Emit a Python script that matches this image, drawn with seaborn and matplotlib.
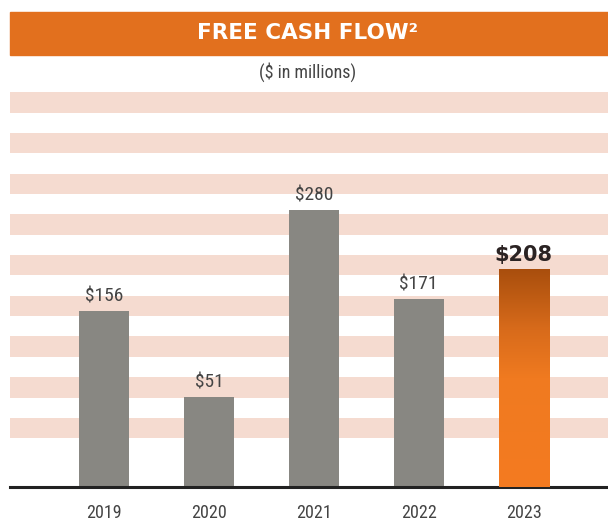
import numpy as np
import pandas as pd
import seaborn as sns
import matplotlib.pyplot as plt
from matplotlib.patches import Rectangle
from matplotlib.colors import LinearSegmentedColormap

years = ['2019', '2020', '2021', '2022', '2023']
fcf = [156, 51, 280, 171, 208]
labels = ['$156', '$51', '$280', '$171', '$208']

gray = '#888782'
orange = '#F47B20'
header = '#E2701E'
stripe = '#F5DBD0'

df = pd.DataFrame({'Year': years, 'FCF': fcf})

sns.set_style('white')
narrow = ['Roboto Condensed', 'Liberation Sans Narrow', 'DejaVu Sans']
plt.rcParams['font.family'] = ['DejaVu Sans']
plt.rcParams['font.stretch'] = 'condensed'

fig = plt.figure(figsize=(6.08, 5.21), dpi=100)
ax = fig.add_axes([10 / 608, 34 / 521, 598 / 608, 397 / 521])

# background stripes every 50
for lo in range(0, 401, 50):
    ax.axhspan(lo, lo + 25, color=stripe, lw=0, zorder=0)

pal = [gray] * 4 + [orange]
sns.barplot(data=df, x='Year', y='FCF', hue='Year', palette=pal, legend=False,
            width=0.477, saturation=1, linewidth=0, edgecolor='none', ax=ax, zorder=2)

ax.set_xlim(-0.896, 4.805)
ax.set_ylim(-60, 428)

# bars start from bottom of axes
for p in ax.patches:
    if isinstance(p, Rectangle) and p.get_width() < 1:
        p.set_y(-60)
        p.set_height(p.get_height() + 60)

# gradient on the 2023 bar
bar = ax.patches[-1]
x0, w = bar.get_x(), bar.get_width()
top = bar.get_y() + bar.get_height()
cmap = LinearSegmentedColormap.from_list('g', [(0, '#F47B20'), (0.5, '#F07A20'), (0.72, '#D86B1B'), (1, '#A84E0D')])
grad = np.linspace(0, 1, 256).reshape(-1, 1)
im = ax.imshow(grad, extent=[x0, x0 + w, -60, top], origin='lower', cmap=cmap,
               aspect='auto', zorder=3)
im.set_clip_path(bar)

for i, (v, t) in enumerate(zip(fcf, labels)):
    if i == 4:
        ax.text(i, v + 5, t, ha='center', va='bottom', fontsize=15, fontweight='bold',
                fontstretch='normal', color='#2B2323', zorder=4)
    else:
        ax.text(i, v + 7, t, ha='center', va='bottom', fontsize=14, family=narrow,
                color='#444444', zorder=4)

sns.despine(ax=ax, left=True, top=True, right=True)
ax.spines['bottom'].set_color('#222222')
ax.spines['bottom'].set_linewidth(2.2)
ax.set_yticks([])
ax.set_xlabel('')
ax.set_ylabel('')
ax.tick_params(axis='x', length=0, pad=12)
for lbl in ax.get_xticklabels():
    lbl.set_fontsize(13)
    lbl.set_family(narrow)
    lbl.set_color('#444444')

# header band
fig.patches.append(Rectangle((10 / 608, (521 - 55) / 521), 598 / 608, 43 / 521,
                             transform=fig.transFigure, color=header, zorder=0))
fig.text(308 / 608, (521 - 33) / 521, 'FREE CASH FLOW²', ha='center', va='center',
         color='white', fontsize=15.5, fontweight='bold', fontstretch='normal')
fig.text(308 / 608, (521 - 72) / 521, '($ in millions)', ha='center', va='center',
         color='#444444', fontsize=13, family=narrow)

fig.savefig('out.png', dpi=100)
